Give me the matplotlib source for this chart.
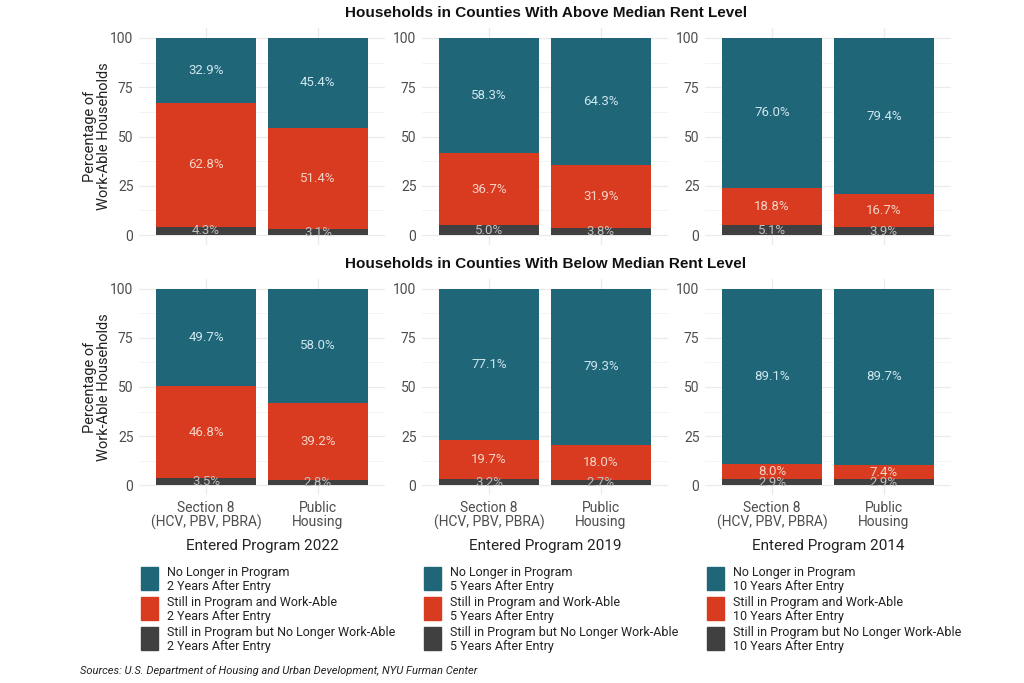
import matplotlib
matplotlib.use("Agg")
import matplotlib.pyplot as plt
from matplotlib.patches import Rectangle
import numpy as np

# ---------------- data ----------------
categories = ["Section 8\n(HCV, PBV, PBRA)", "Public\nHousing"]
years = ["2022", "2019", "2014"]
years_after = ["2", "5", "10"]
row_titles = ["Households in Counties With Above Median Rent Level",
              "Households in Counties With Below Median Rent Level"]

# [row][panel][category]
dark_vals = [[[4.3, 3.1], [5.0, 3.8], [5.1, 3.9]],
             [[3.5, 2.8], [3.2, 2.7], [2.9, 2.9]]]
red_vals = [[[62.8, 51.4], [36.7, 31.9], [18.8, 16.7]],
            [[46.8, 39.2], [19.7, 18.0], [8.0, 7.4]]]
teal_vals = [[[32.9, 45.4], [58.3, 64.3], [76.0, 79.4]],
             [[49.7, 58.0], [77.1, 79.3], [89.1, 89.7]]]

yticks = [0, 25, 50, 75, 100]

TEAL = "#1f6679"
RED = "#d83b1f"
DARK = "#404040"
TEAL_TXT = "#cfe6ee"
RED_TXT = "#f6d3c6"
DARK_TXT = "#c0c0c0"

W, H = 1024, 683
fig = plt.figure(figsize=(W / 100, H / 100), dpi=100)
fig.patch.set_facecolor("white")

FONT = ["Roboto", "DejaVu Sans"]
TFONT = ["Liberation Sans", "DejaVu Sans"]


def fx(x):
    return x / W


def fy(y):
    return 1 - y / H


panel_x = [139, 422, 705]
panel_w = 246
row_y = [(28, 245), (279, 495)]

for r in range(2):
    top, bot = row_y[r]
    for p in range(3):
        ax = fig.add_axes([fx(panel_x[p]), fy(bot), panel_w / W, (bot - top) / H])
        ax.set_xlim(0.4, 2.6)
        ax.set_ylim(-5, 105)
        x = np.arange(1, 3)
        d = np.array(dark_vals[r][p])
        rd = np.array(red_vals[r][p])
        t = np.array(teal_vals[r][p])
        tt = 100 - d - rd  # teal top fill to 100
        ax.bar(x, d, width=0.9, color=DARK, zorder=2)
        ax.bar(x, rd, width=0.9, bottom=d, color=RED, zorder=2)
        ax.bar(x, tt, width=0.9, bottom=d + rd, color=TEAL, zorder=2)
        for i in range(2):
            ax.text(x[i], d[i] / 2, f"{d[i]:.1f}%", ha="center", va="center",
                    color=DARK_TXT, fontsize=9.5, family=FONT, zorder=3)
            ax.text(x[i], d[i] + rd[i] / 2, f"{rd[i]:.1f}%", ha="center", va="center",
                    color=RED_TXT, fontsize=9.5, family=FONT, zorder=3)
            ax.text(x[i], d[i] + rd[i] + tt[i] / 2, f"{t[i]:.1f}%", ha="center",
                    va="center", color=TEAL_TXT, fontsize=9.5, family=FONT, zorder=3)
        ax.set_yticks(yticks)
        ax.set_yticks([12.5, 37.5, 62.5, 87.5], minor=True)
        ax.set_yticklabels([str(v) for v in yticks], family=FONT, fontsize=10,
                           color="#4d4d4d")
        ax.set_xticks(x)
        if r == 1:
            ax.set_xticklabels(categories, family=FONT, fontsize=10, color="#4d4d4d",
                               linespacing=1.05)
            ax.set_xlabel(f"Entered Program {years[p]}", family=FONT, fontsize=11,
                          color="#222222", labelpad=6)
        else:
            ax.set_xticklabels([])
        ax.tick_params(axis="both", which="both", length=0, pad=4)
        ax.grid(True, which="major", color="#ebebeb", linewidth=0.9, zorder=0)
        ax.grid(True, which="minor", axis="y", color="#f3f3f3", linewidth=0.6, zorder=0)
        for s in ax.spines.values():
            s.set_visible(False)
        if p == 0:
            ax.set_ylabel("Percentage of\nWork-Able Households", family=FONT,
                          fontsize=10.5, color="#222222", labelpad=-0.5, linespacing=1.0)

    fig.text(fx(546), fy(13 if r == 0 else 264), row_titles[r], ha="center",
             va="center", fontsize=11, fontweight="bold", family=TFONT, color="#111111")

# legends
legend_x = [141, 424, 707]
colors = [TEAL, RED, DARK]
for p in range(3):
    n = years_after[p]
    labels = [f"No Longer in Program\n{n} Years After Entry",
              f"Still in Program and Work-Able\n{n} Years After Entry",
              f"Still in Program but No Longer Work-Able\n{n} Years After Entry"]
    for k in range(3):
        y0 = 567 + 30 * k
        fig.patches.append(Rectangle((fx(legend_x[p]), fy(y0 + 23)), 17 / W, 23 / H,
                                     transform=fig.transFigure, color=colors[k]))
        fig.text(fx(legend_x[p] + 26), fy(y0 + 12.5), labels[k], ha="left",
                 va="center", fontsize=9, family=FONT, color="#222222",
                 linespacing=1.12)

fig.text(fx(80), fy(671), "Sources: U.S. Department of Housing and Urban Development, NYU Furman Center",
         ha="left", va="center", fontsize=8, style="italic", family=FONT, color="#222222")

fig.savefig("out.png", dpi=100, facecolor="white")
